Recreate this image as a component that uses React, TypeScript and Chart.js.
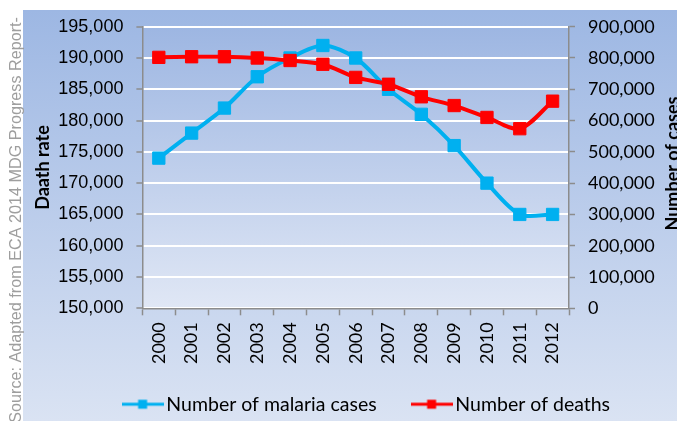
import React, { useEffect, useRef } from "react";
import { Chart, registerables } from "chart.js";

Chart.register(...registerables);

// ---------- data ----------
const years = ["2000", "2001", "2002", "2003", "2004", "2005", "2006", "2007", "2008", "2009", "2010", "2011", "2012"];
const malariaCases = [480000, 560000, 640000, 740000, 800000, 840000, 800000, 700000, 620000, 520000, 400000, 300000, 300000];
const deaths = [190100, 190200, 190200, 190000, 189600, 189000, 186900, 185800, 183800, 182400, 180500, 178700, 183100];
const seriesNames = ["Number of malaria cases", "Number of deaths"];
const leftAxis = { min: 150000, max: 195000, step: 5000, title: "Daath rate" };
const rightAxis = { min: 0, max: 900000, step: 100000, title: "Number of cases" };
const sourceNote = "Source: Adapted from ECA 2014 MDG Progress Report-";

// ---------- styles ----------
const W = 677;
const H = 421;
const BLUE = "#00B0F0";
const RED = "#FF0000";
const AXIS_GRAY = "#8C8C8C";
const PLOT = { left: 142.4, right: 569, top: 26.7, bottom: 308.3 };
const LEGEND_PAD = 41;
const LEGEND_BOX = 28;
const LEGEND_X = 128.6;
const LEGEND_DY = 3;

function legendMarker(color: string): HTMLCanvasElement {
  const c = document.createElement("canvas");
  c.width = 42;
  c.height = 12;
  const g = c.getContext("2d")!;
  g.strokeStyle = color;
  g.lineWidth = 3;
  g.beginPath();
  g.moveTo(0, 6);
  g.lineTo(42, 6);
  g.stroke();
  g.fillStyle = color;
  g.fillRect(16.5, 1.5, 9, 9);
  return c;
}

const decorPlugin = {
  id: "decor",
  afterLayout(chart: any) {
    const lg = chart.legend;
    if (lg) {
      const dx = LEGEND_X - (lg.left + LEGEND_PAD);
      lg.left += dx;
      lg.right += dx;
      lg.top += LEGEND_DY;
      lg.bottom += LEGEND_DY;
    }
    // let the rotated year labels run below the axis box (no clipping)
    const xs = chart.scales.x;
    if (xs) xs.bottom = H;
  },
  beforeDraw(chart: any) {
    const { ctx, chartArea: a, width, height } = chart;
    ctx.save();
    ctx.fillStyle = "#FFFFFF";
    ctx.fillRect(0, 0, width, height);
    const g = ctx.createLinearGradient(0, 10, 0, height);
    g.addColorStop(0, "#9DB7E3");
    g.addColorStop(1, "#DAE3F3");
    ctx.fillStyle = g;
    ctx.fillRect(23, 10, width - 23, height - 10);
    const p = ctx.createLinearGradient(0, a.top, 0, a.bottom);
    p.addColorStop(0, "#9DB6E2");
    p.addColorStop(1, "#E0E7F5");
    ctx.fillStyle = p;
    ctx.fillRect(a.left, a.top, a.right - a.left, a.bottom - a.top);
    ctx.restore();
  },
  afterDraw(chart: any) {
    const { ctx, chartArea: a } = chart;
    const midY = (a.top + a.bottom) / 2;
    ctx.save();
    ctx.fillStyle = "#000000";
    ctx.font = "bold 18px Lato";
    ctx.textAlign = "center";
    ctx.textBaseline = "alphabetic";
    // left title
    ctx.save();
    ctx.translate(48.5, midY);
    ctx.rotate(-Math.PI / 2);
    ctx.fillText(leftAxis.title, 0, 0);
    ctx.restore();
    // right title
    ctx.save();
    ctx.translate(679, midY - 4);
    ctx.rotate(-Math.PI / 2);
    ctx.fillText(rightAxis.title, 0, 0);
    ctx.restore();
    // source note
    ctx.save();
    ctx.fillStyle = "#9E9E9E";
    ctx.font = "16.2px 'Liberation Sans'";
    ctx.textAlign = "right";
    ctx.translate(21, 17);
    ctx.rotate(-Math.PI / 2);
    ctx.fillText(sourceNote, 0, 0);
    ctx.restore();
    ctx.restore();
  },
};

const fmt = (v: any) => Number(v).toLocaleString("en-US");

export default function App() {
  const ref = useRef<HTMLCanvasElement | null>(null);

  useEffect(() => {
    if (!ref.current) return;
    const markers = [legendMarker(BLUE), legendMarker(RED)];
    const chart = new Chart(ref.current, {
      type: "line",
      data: {
        labels: years,
        datasets: [
          {
            label: seriesNames[0],
            data: malariaCases,
            yAxisID: "y1",
            borderColor: BLUE,
            backgroundColor: BLUE,
            borderWidth: 4,
            pointStyle: "rect",
            pointRadius: 8.7,
            pointBorderWidth: 1,
            pointBorderColor: BLUE,
            pointBackgroundColor: BLUE,
            tension: 0.3,
            order: 2,
          },
          {
            label: seriesNames[1],
            data: deaths,
            yAxisID: "y",
            borderColor: RED,
            backgroundColor: RED,
            borderWidth: 4,
            pointStyle: "rect",
            pointRadius: 8.7,
            pointBorderWidth: 1,
            pointBorderColor: RED,
            pointBackgroundColor: RED,
            tension: 0.3,
            order: 1,
          },
        ],
      },
      options: {
        responsive: false,
        animation: false,
        events: [],
        layout: { padding: { top: PLOT.top, left: 0, right: 0, bottom: 0 } },
        plugins: {
          tooltip: { enabled: false },
          legend: {
            position: "bottom",
            align: "start",
            labels: {
              usePointStyle: true,
              pointStyleWidth: LEGEND_BOX,
              padding: LEGEND_PAD,
              color: "#000000",
              font: { family: "Lato", size: 19.5 },
              sort: (a: any, b: any) => a.datasetIndex - b.datasetIndex,
              generateLabels: (ch: any) => {
                const base = Chart.defaults.plugins.legend.labels.generateLabels(ch);
                return base.map((it: any) => ({ ...it, pointStyle: markers[it.datasetIndex] }));
              },
            },
          },
        },
        scales: {
          x: {
            offset: true,
            grid: {
              offset: true,
              drawOnChartArea: false,
              tickLength: 7,
              tickColor: AXIS_GRAY,
              tickWidth: 1.5,
            },
            border: { color: AXIS_GRAY, width: 1.5 },
            ticks: {
              autoSkip: false,
              minRotation: 90,
              maxRotation: 90,
              padding: 7,
              color: "#000000",
              font: { family: "Lato", size: 18 },
            },
            afterFit: (s: any) => {
              const lh = s.chart.legend ? s.chart.legend.height : 0;
              s.height = H - PLOT.bottom - lh;
            },
          },
          y: {
            position: "left",
            min: leftAxis.min,
            max: leftAxis.max,
            grid: {
              color: "#FFFFFF",
              lineWidth: 2,
              tickLength: 6,
              tickColor: AXIS_GRAY,
              tickWidth: 1.5,
            },
            border: { color: AXIS_GRAY, width: 1.5 },
            ticks: {
              stepSize: leftAxis.step,
              padding: 13,
              color: "#000000",
              font: { family: "'Liberation Sans'", size: 18 },
              callback: fmt,
            },
            afterFit: (s: any) => {
              s.width = PLOT.left;
            },
          },
          y1: {
            position: "right",
            min: rightAxis.min,
            max: rightAxis.max,
            grid: {
              drawOnChartArea: false,
              tickLength: 6,
              tickColor: AXIS_GRAY,
              tickWidth: 1.5,
            },
            border: { color: AXIS_GRAY, width: 1.5 },
            ticks: {
              stepSize: rightAxis.step,
              padding: 13,
              color: "#000000",
              font: { family: "Lato", size: 18 },
              callback: fmt,
            },
            afterFit: (s: any) => {
              s.width = W - PLOT.right;
            },
          },
        },
      },
      plugins: [decorPlugin],
    } as any);
    return () => chart.destroy();
  }, []);

  return (
    <div style={{ position: "absolute", left: 0, top: 0, width: W, height: H }}>
      <canvas ref={ref} width={W} height={H} style={{ display: "block", width: W, height: H }} />
    </div>
  );
}
